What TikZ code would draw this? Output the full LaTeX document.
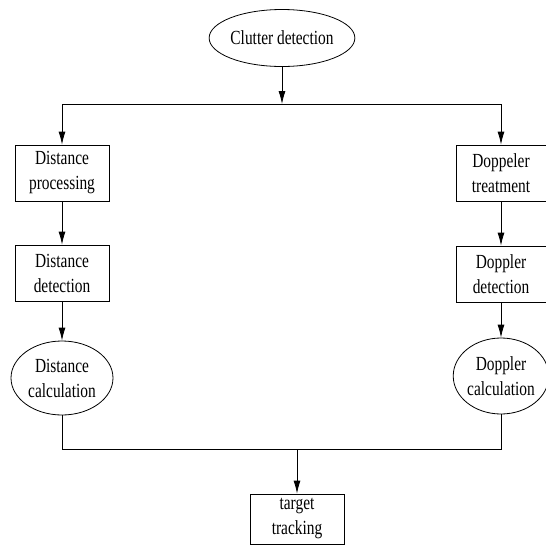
\documentclass[tikz,border=0pt]{standalone}
\usepackage{fontspec}
\setmainfont{Liberation Serif}[FakeStretch=0.77]
\usepackage{tikz}
\usetikzlibrary{arrows.meta,positioning,shapes.geometric}

\begin{document}
\begin{tikzpicture}[x=1pt,y=-1pt,>={Latex[length=13pt,width=7pt]}]
\tikzset{
 box/.style={draw,line width=0.8pt,inner sep=0pt,minimum width=94pt,minimum height=56pt,align=center,font=\fontsize{20}{25}\selectfont},
 oval/.style={draw,ellipse,line width=0.8pt,inner sep=0pt,align=center,font=\fontsize{20}{25}\selectfont},
 arrow/.style={->,line width=0.8pt},
 link/.style={line width=0.8pt}
}
\useasboundingbox (0,0) rectangle (546,547);
\node[oval,minimum width=128pt,minimum height=57pt] (clutter) at (282,38) {Clutter detection};
\coordinate (split) at (282,104);
\node[box] (dproc) at (62,173) {Distance\\processing};
\node[box] (ddet) at (62,273) {Distance\\detection};
\node[oval,minimum width=102pt,minimum height=74pt] (dcalc) at (62,378) {Distance\\calculation};
\node[box,minimum width=90pt] (pproc) at (501,173) {Doppeler\\treatment};
\node[box,minimum width=90pt] (pdet) at (501,274) {Doppler\\detection};
\node[oval,minimum width=94pt,minimum height=76pt] (pcalc) at (501,376) {Doppler\\calculation};
\coordinate (merge) at (297,449);
\node[box,minimum height=50pt] (track) at (297,519) {target\\tracking};
\draw[arrow] (clutter) -- (split);
\draw[arrow] (split) -| (dproc);
\draw[arrow] (split) -| (pproc);
\draw[arrow] (dproc) -- (ddet);
\draw[arrow] (ddet) -- (dcalc);
\draw[arrow] (pproc) -- (pdet);
\draw[arrow] (pdet) -- (pcalc);
\draw[link] (dcalc) |- (merge);
\draw[link] (pcalc) |- (merge);
\draw[arrow] (merge) -- (track);
\end{tikzpicture}
\end{document}
